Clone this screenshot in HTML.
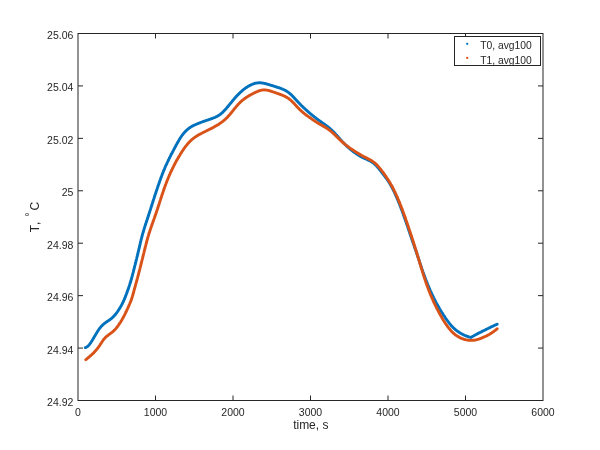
<!DOCTYPE html>
<html><head><meta charset="utf-8"><title>T vs time</title>
<style>html,body{margin:0;padding:0;background:#fff;}svg{display:block;}text{font-family:"Liberation Sans",sans-serif;fill:#262626;}</style>
</head><body>
<svg width="600" height="450" viewBox="0 0 600 450">
<rect x="0" y="0" width="600" height="450" fill="#ffffff"/>
<path d="M85.4,347.6 L85.9,347.4 L86.3,347.2 L86.7,347.0 L87.1,346.8 L87.5,346.5 L87.9,346.2 L88.2,345.9 L88.6,345.5 L88.9,345.2 L89.2,344.8 L89.5,344.4 L89.8,344.0 L90.1,343.6 L90.4,343.2 L90.7,342.8 L90.9,342.4 L91.2,342.0 L91.5,341.5 L91.8,341.1 L92.0,340.7 L92.3,340.3 L92.5,339.8 L92.8,339.4 L93.1,339.0 L93.3,338.6 L93.6,338.1 L93.8,337.7 L94.1,337.3 L94.3,336.8 L94.6,336.4 L94.8,336.0 L95.1,335.5 L95.3,335.1 L95.6,334.7 L95.9,334.2 L96.1,333.8 L96.4,333.4 L96.6,333.0 L96.9,332.5 L97.1,332.1 L97.4,331.7 L97.7,331.3 L97.9,330.8 L98.2,330.4 L98.5,330.0 L98.8,329.6 L99.1,329.2 L99.3,328.8 L99.6,328.4 L99.9,328.0 L100.2,327.6 L100.6,327.2 L100.9,326.8 L101.2,326.5 L101.5,326.1 L101.9,325.8 L102.2,325.4 L102.6,325.1 L102.9,324.7 L103.3,324.4 L103.7,324.1 L104.1,323.8 L104.4,323.5 L104.8,323.2 L105.2,322.9 L105.6,322.6 L106.0,322.3 L106.4,322.0 L106.8,321.7 L107.3,321.4 L107.7,321.2 L108.1,320.9 L108.5,320.6 L108.9,320.3 L109.3,320.1 L109.7,319.8 L110.1,319.5 L110.5,319.2 L110.9,318.9 L111.3,318.6 L111.7,318.2 L112.0,317.9 L112.4,317.6 L112.8,317.3 L113.1,316.9 L113.5,316.6 L113.8,316.2 L114.2,315.9 L114.5,315.5 L114.8,315.1 L115.1,314.8 L115.5,314.4 L115.8,314.0 L116.1,313.6 L116.4,313.2 L116.7,312.8 L117.0,312.4 L117.3,312.0 L117.5,311.6 L117.8,311.2 L118.1,310.8 L118.4,310.3 L118.7,309.9 L118.9,309.5 L119.2,309.1 L119.5,308.7 L119.7,308.2 L120.0,307.8 L120.2,307.4 L120.5,306.9 L120.7,306.5 L121.0,306.1 L121.2,305.6 L121.5,305.2 L121.7,304.8 L121.9,304.3 L122.2,303.9 L122.4,303.4 L122.6,303.0 L122.8,302.5 L123.1,302.1 L123.3,301.6 L123.5,301.2 L123.7,300.7 L123.9,300.3 L124.1,299.8 L124.3,299.4 L124.5,298.9 L124.7,298.4 L124.9,298.0 L125.1,297.5 L125.2,297.1 L125.4,296.6 L125.6,296.1 L125.8,295.7 L126.0,295.2 L126.1,294.7 L126.3,294.3 L126.5,293.8 L126.7,293.3 L126.8,292.9 L127.0,292.4 L127.2,291.9 L127.4,291.4 L127.5,291.0 L127.7,290.5 L127.9,290.0 L128.0,289.6 L128.2,289.1 L128.4,288.6 L128.5,288.2 L128.7,287.7 L128.8,287.2 L129.0,286.7 L129.2,286.3 L129.3,285.8 L129.5,285.3 L129.6,284.8 L129.8,284.4 L129.9,283.9 L130.1,283.4 L130.2,282.9 L130.4,282.4 L130.5,282.0 L130.7,281.5 L130.8,281.0 L130.9,280.5 L131.1,280.1 L131.2,279.6 L131.4,279.1 L131.5,278.6 L131.6,278.1 L131.8,277.7 L131.9,277.2 L132.0,276.7 L132.2,276.2 L132.3,275.7 L132.4,275.2 L132.6,274.8 L132.7,274.3 L132.8,273.8 L132.9,273.3 L133.1,272.8 L133.2,272.3 L133.3,271.9 L133.4,271.4 L133.5,270.9 L133.7,270.4 L133.8,269.9 L133.9,269.4 L134.0,268.9 L134.2,268.5 L134.3,268.0 L134.4,267.5 L134.5,267.0 L134.6,266.5 L134.8,266.0 L134.9,265.5 L135.0,265.1 L135.1,264.6 L135.3,264.1 L135.4,263.6 L135.5,263.1 L135.6,262.6 L135.7,262.2 L135.9,261.7 L136.0,261.2 L136.1,260.7 L136.2,260.2 L136.3,259.7 L136.5,259.2 L136.6,258.8 L136.7,258.3 L136.8,257.8 L136.9,257.3 L137.1,256.8 L137.2,256.3 L137.3,255.8 L137.4,255.4 L137.5,254.9 L137.7,254.4 L137.8,253.9 L137.9,253.4 L138.0,252.9 L138.1,252.4 L138.2,252.0 L138.4,251.5 L138.5,251.0 L138.6,250.5 L138.7,250.0 L138.8,249.5 L138.9,249.0 L139.0,248.6 L139.2,248.1 L139.3,247.6 L139.4,247.1 L139.5,246.6 L139.6,246.1 L139.7,245.6 L139.8,245.1 L140.0,244.7 L140.1,244.2 L140.2,243.7 L140.3,243.2 L140.4,242.7 L140.5,242.2 L140.6,241.7 L140.8,241.3 L140.9,240.8 L141.0,240.3 L141.1,239.8 L141.2,239.3 L141.4,238.8 L141.5,238.3 L141.6,237.9 L141.7,237.4 L141.9,236.9 L142.0,236.4 L142.1,235.9 L142.2,235.4 L142.4,235.0 L142.5,234.5 L142.6,234.0 L142.8,233.5 L142.9,233.0 L143.0,232.6 L143.2,232.1 L143.3,231.6 L143.5,231.1 L143.6,230.6 L143.7,230.2 L143.9,229.7 L144.0,229.2 L144.2,228.7 L144.3,228.2 L144.5,227.8 L144.6,227.3 L144.8,226.8 L144.9,226.3 L145.1,225.9 L145.2,225.4 L145.4,224.9 L145.5,224.4 L145.7,224.0 L145.9,223.5 L146.0,223.0 L146.2,222.5 L146.3,222.1 L146.5,221.6 L146.6,221.1 L146.8,220.6 L147.0,220.2 L147.1,219.7 L147.3,219.2 L147.4,218.7 L147.6,218.3 L147.7,217.8 L147.9,217.3 L148.1,216.8 L148.2,216.4 L148.4,215.9 L148.5,215.4 L148.7,214.9 L148.8,214.5 L149.0,214.0 L149.1,213.5 L149.3,213.0 L149.4,212.6 L149.6,212.1 L149.7,211.6 L149.9,211.1 L150.0,210.7 L150.2,210.2 L150.4,209.7 L150.5,209.2 L150.7,208.7 L150.8,208.3 L151.0,207.8 L151.1,207.3 L151.3,206.8 L151.4,206.4 L151.6,205.9 L151.7,205.4 L151.9,204.9 L152.0,204.5 L152.2,204.0 L152.3,203.5 L152.5,203.0 L152.6,202.6 L152.8,202.1 L152.9,201.6 L153.1,201.1 L153.2,200.7 L153.4,200.2 L153.5,199.7 L153.7,199.2 L153.9,198.7 L154.0,198.3 L154.2,197.8 L154.3,197.3 L154.5,196.8 L154.6,196.4 L154.8,195.9 L154.9,195.4 L155.1,194.9 L155.2,194.5 L155.4,194.0 L155.5,193.5 L155.7,193.0 L155.9,192.6 L156.0,192.1 L156.2,191.6 L156.3,191.1 L156.5,190.7 L156.6,190.2 L156.8,189.7 L157.0,189.2 L157.1,188.8 L157.3,188.3 L157.4,187.8 L157.6,187.3 L157.8,186.9 L157.9,186.4 L158.1,185.9 L158.2,185.5 L158.4,185.0 L158.6,184.5 L158.7,184.0 L158.9,183.6 L159.1,183.1 L159.2,182.6 L159.4,182.1 L159.6,181.7 L159.7,181.2 L159.9,180.7 L160.1,180.3 L160.2,179.8 L160.4,179.3 L160.6,178.9 L160.7,178.4 L160.9,177.9 L161.1,177.4 L161.3,177.0 L161.4,176.5 L161.6,176.0 L161.8,175.6 L162.0,175.1 L162.1,174.6 L162.3,174.2 L162.5,173.7 L162.7,173.2 L162.9,172.8 L163.0,172.3 L163.2,171.9 L163.4,171.4 L163.6,170.9 L163.8,170.5 L164.0,170.0 L164.2,169.5 L164.4,169.1 L164.6,168.6 L164.7,168.2 L164.9,167.7 L165.1,167.2 L165.3,166.8 L165.5,166.3 L165.7,165.9 L165.9,165.4 L166.1,165.0 L166.4,164.5 L166.6,164.1 L166.8,163.6 L167.0,163.1 L167.2,162.7 L167.4,162.2 L167.6,161.8 L167.8,161.3 L168.1,160.9 L168.3,160.4 L168.5,160.0 L168.7,159.5 L168.9,159.1 L169.1,158.6 L169.4,158.2 L169.6,157.7 L169.8,157.3 L170.0,156.9 L170.3,156.4 L170.5,156.0 L170.7,155.5 L170.9,155.1 L171.2,154.6 L171.4,154.2 L171.6,153.7 L171.9,153.3 L172.1,152.9 L172.3,152.4 L172.6,152.0 L172.8,151.5 L173.0,151.1 L173.2,150.6 L173.5,150.2 L173.7,149.8 L173.9,149.3 L174.2,148.9 L174.4,148.4 L174.7,148.0 L174.9,147.5 L175.1,147.1 L175.4,146.7 L175.6,146.2 L175.8,145.8 L176.1,145.3 L176.3,144.9 L176.5,144.5 L176.8,144.0 L177.0,143.6 L177.3,143.2 L177.5,142.7 L177.8,142.3 L178.0,141.8 L178.3,141.4 L178.5,141.0 L178.8,140.5 L179.0,140.1 L179.3,139.7 L179.5,139.3 L179.8,138.8 L180.1,138.4 L180.3,138.0 L180.6,137.6 L180.9,137.2 L181.1,136.8 L181.4,136.3 L181.7,135.9 L182.0,135.5 L182.3,135.1 L182.6,134.7 L182.9,134.4 L183.2,134.0 L183.5,133.6 L183.8,133.2 L184.1,132.8 L184.4,132.5 L184.8,132.1 L185.1,131.8 L185.4,131.4 L185.8,131.1 L186.1,130.7 L186.5,130.4 L186.8,130.1 L187.2,129.7 L187.6,129.4 L187.9,129.1 L188.3,128.8 L188.7,128.5 L189.1,128.2 L189.5,127.9 L189.9,127.6 L190.3,127.4 L190.7,127.1 L191.1,126.8 L191.5,126.6 L192.0,126.3 L192.4,126.1 L192.8,125.9 L193.3,125.6 L193.7,125.4 L194.2,125.2 L194.6,125.0 L195.1,124.8 L195.5,124.6 L196.0,124.4 L196.4,124.2 L196.9,124.0 L197.3,123.8 L197.8,123.6 L198.3,123.4 L198.7,123.2 L199.2,123.1 L199.7,122.9 L200.1,122.7 L200.6,122.5 L201.1,122.3 L201.5,122.2 L202.0,122.0 L202.5,121.8 L202.9,121.6 L203.4,121.5 L203.9,121.3 L204.4,121.1 L204.8,121.0 L205.3,120.8 L205.8,120.7 L206.2,120.5 L206.7,120.3 L207.2,120.2 L207.7,120.0 L208.2,119.9 L208.6,119.7 L209.1,119.5 L209.6,119.4 L210.1,119.2 L210.5,119.1 L211.0,118.9 L211.5,118.7 L211.9,118.6 L212.4,118.4 L212.9,118.2 L213.3,118.0 L213.8,117.8 L214.3,117.7 L214.7,117.5 L215.2,117.3 L215.6,117.1 L216.1,116.8 L216.5,116.6 L217.0,116.4 L217.4,116.2 L217.8,115.9 L218.2,115.7 L218.7,115.4 L219.1,115.2 L219.5,114.9 L219.9,114.6 L220.3,114.3 L220.7,114.0 L221.0,113.7 L221.4,113.4 L221.8,113.1 L222.2,112.8 L222.5,112.4 L222.9,112.1 L223.2,111.7 L223.6,111.4 L223.9,111.0 L224.3,110.7 L224.6,110.3 L224.9,109.9 L225.3,109.6 L225.6,109.2 L225.9,108.8 L226.3,108.5 L226.6,108.1 L226.9,107.7 L227.2,107.3 L227.6,106.9 L227.9,106.6 L228.2,106.2 L228.5,105.8 L228.8,105.4 L229.2,105.0 L229.5,104.6 L229.8,104.2 L230.1,103.8 L230.4,103.5 L230.7,103.1 L231.1,102.7 L231.4,102.3 L231.7,101.9 L232.0,101.5 L232.3,101.1 L232.6,100.7 L232.9,100.4 L233.3,100.0 L233.6,99.6 L233.9,99.2 L234.2,98.8 L234.5,98.4 L234.9,98.1 L235.2,97.7 L235.5,97.3 L235.9,96.9 L236.2,96.6 L236.5,96.2 L236.9,95.8 L237.2,95.5 L237.6,95.1 L237.9,94.8 L238.3,94.4 L238.6,94.1 L239.0,93.7 L239.3,93.4 L239.7,93.0 L240.0,92.7 L240.4,92.3 L240.8,92.0 L241.1,91.7 L241.5,91.3 L241.9,91.0 L242.3,90.7 L242.7,90.4 L243.0,90.0 L243.4,89.7 L243.8,89.4 L244.2,89.1 L244.6,88.8 L245.0,88.5 L245.4,88.2 L245.8,87.9 L246.2,87.6 L246.6,87.4 L247.1,87.1 L247.5,86.8 L247.9,86.5 L248.3,86.3 L248.7,86.0 L249.2,85.8 L249.6,85.5 L250.0,85.3 L250.5,85.1 L250.9,84.9 L251.4,84.7 L251.8,84.5 L252.3,84.3 L252.7,84.1 L253.2,83.9 L253.7,83.8 L254.1,83.6 L254.6,83.5 L255.1,83.4 L255.6,83.2 L256.1,83.1 L256.5,83.1 L257.0,83.0 L257.5,82.9 L258.0,82.9 L258.5,82.8 L259.0,82.8 L259.5,82.8 L260.0,82.8 L260.5,82.8 L261.0,82.9 L261.4,82.9 L261.9,83.0 L262.4,83.0 L262.9,83.1 L263.4,83.2 L263.9,83.3 L264.4,83.4 L264.9,83.5 L265.4,83.6 L265.8,83.7 L266.3,83.9 L266.8,84.0 L267.3,84.1 L267.8,84.3 L268.2,84.4 L268.7,84.5 L269.2,84.7 L269.7,84.8 L270.1,85.0 L270.6,85.1 L271.1,85.3 L271.6,85.4 L272.1,85.6 L272.5,85.7 L273.0,85.9 L273.5,86.0 L274.0,86.2 L274.4,86.3 L274.9,86.5 L275.4,86.6 L275.9,86.8 L276.3,86.9 L276.8,87.1 L277.3,87.3 L277.8,87.4 L278.3,87.6 L278.7,87.7 L279.2,87.9 L279.7,88.0 L280.1,88.2 L280.6,88.4 L281.1,88.5 L281.6,88.7 L282.0,88.9 L282.5,89.1 L282.9,89.3 L283.4,89.5 L283.8,89.7 L284.3,89.9 L284.7,90.1 L285.2,90.3 L285.6,90.6 L286.0,90.8 L286.4,91.1 L286.9,91.3 L287.3,91.6 L287.7,91.9 L288.1,92.2 L288.5,92.5 L288.9,92.8 L289.3,93.1 L289.6,93.4 L290.0,93.7 L290.4,94.0 L290.7,94.4 L291.1,94.7 L291.5,95.0 L291.8,95.4 L292.2,95.7 L292.5,96.1 L292.9,96.5 L293.2,96.8 L293.6,97.2 L293.9,97.5 L294.2,97.9 L294.6,98.3 L294.9,98.6 L295.3,99.0 L295.6,99.4 L295.9,99.7 L296.3,100.1 L296.6,100.5 L297.0,100.8 L297.3,101.2 L297.6,101.6 L298.0,101.9 L298.3,102.3 L298.7,102.7 L299.0,103.0 L299.3,103.4 L299.7,103.8 L300.0,104.1 L300.4,104.5 L300.7,104.8 L301.1,105.2 L301.4,105.5 L301.8,105.9 L302.2,106.2 L302.5,106.6 L302.9,106.9 L303.2,107.3 L303.6,107.6 L304.0,108.0 L304.3,108.3 L304.7,108.7 L305.1,109.0 L305.4,109.3 L305.8,109.7 L306.2,110.0 L306.5,110.3 L306.9,110.7 L307.3,111.0 L307.7,111.3 L308.0,111.7 L308.4,112.0 L308.8,112.3 L309.2,112.6 L309.6,113.0 L309.9,113.3 L310.3,113.6 L310.7,113.9 L311.1,114.2 L311.5,114.6 L311.9,114.9 L312.2,115.2 L312.6,115.5 L313.0,115.8 L313.4,116.1 L313.8,116.4 L314.2,116.8 L314.6,117.1 L315.0,117.4 L315.4,117.7 L315.8,118.0 L316.2,118.3 L316.6,118.6 L317.0,118.9 L317.4,119.2 L317.8,119.5 L318.2,119.8 L318.6,120.1 L319.0,120.4 L319.4,120.7 L319.8,121.0 L320.2,121.2 L320.6,121.5 L321.0,121.8 L321.4,122.1 L321.8,122.4 L322.2,122.7 L322.6,123.0 L323.1,123.3 L323.5,123.5 L323.9,123.8 L324.3,124.1 L324.7,124.4 L325.1,124.7 L325.5,125.0 L325.9,125.3 L326.3,125.6 L326.7,125.9 L327.1,126.2 L327.5,126.5 L327.9,126.8 L328.3,127.1 L328.7,127.4 L329.0,127.7 L329.4,128.0 L329.8,128.4 L330.2,128.7 L330.5,129.0 L330.9,129.4 L331.3,129.7 L331.6,130.0 L332.0,130.4 L332.4,130.7 L332.7,131.1 L333.1,131.4 L333.4,131.8 L333.7,132.1 L334.1,132.5 L334.4,132.9 L334.8,133.2 L335.1,133.6 L335.5,134.0 L335.8,134.3 L336.1,134.7 L336.5,135.1 L336.8,135.4 L337.1,135.8 L337.5,136.2 L337.8,136.6 L338.1,136.9 L338.4,137.3 L338.8,137.7 L339.1,138.1 L339.4,138.4 L339.8,138.8 L340.1,139.2 L340.4,139.6 L340.8,139.9 L341.1,140.3 L341.4,140.7 L341.8,141.0 L342.1,141.4 L342.4,141.8 L342.8,142.1 L343.1,142.5 L343.5,142.9 L343.8,143.2 L344.2,143.6 L344.5,143.9 L344.9,144.3 L345.2,144.6 L345.6,145.0 L345.9,145.3 L346.3,145.7 L346.6,146.0 L347.0,146.3 L347.4,146.7 L347.7,147.0 L348.1,147.3 L348.5,147.7 L348.9,148.0 L349.2,148.3 L349.6,148.7 L350.0,149.0 L350.4,149.3 L350.8,149.6 L351.2,149.9 L351.6,150.2 L351.9,150.5 L352.3,150.9 L352.7,151.2 L353.1,151.5 L353.5,151.8 L353.9,152.1 L354.3,152.4 L354.7,152.6 L355.2,152.9 L355.6,153.2 L356.0,153.5 L356.4,153.8 L356.8,154.1 L357.2,154.3 L357.6,154.6 L358.1,154.9 L358.5,155.1 L358.9,155.4 L359.3,155.7 L359.7,155.9 L360.2,156.2 L360.6,156.4 L361.0,156.6 L361.5,156.9 L361.9,157.1 L362.4,157.3 L362.8,157.6 L363.2,157.8 L363.7,158.0 L364.1,158.2 L364.6,158.4 L365.0,158.6 L365.5,158.8 L366.0,159.0 L366.4,159.2 L366.9,159.4 L367.3,159.6 L367.8,159.9 L368.2,160.1 L368.7,160.3 L369.1,160.5 L369.5,160.7 L370.0,160.9 L370.4,161.2 L370.8,161.4 L371.3,161.7 L371.7,161.9 L372.1,162.2 L372.5,162.5 L372.9,162.8 L373.3,163.0 L373.7,163.3 L374.1,163.6 L374.4,164.0 L374.8,164.3 L375.2,164.6 L375.5,164.9 L375.9,165.3 L376.2,165.6 L376.5,166.0 L376.9,166.4 L377.2,166.7 L377.5,167.1 L377.9,167.5 L378.2,167.9 L378.5,168.3 L378.8,168.6 L379.1,169.0 L379.4,169.4 L379.7,169.8 L380.0,170.2 L380.4,170.6 L380.7,171.0 L381.0,171.4 L381.3,171.8 L381.6,172.2 L381.9,172.6 L382.2,173.0 L382.5,173.4 L382.8,173.8 L383.1,174.2 L383.4,174.6 L383.7,175.0 L384.0,175.3 L384.3,175.7 L384.6,176.1 L384.9,176.5 L385.2,176.9 L385.5,177.3 L385.8,177.7 L386.1,178.1 L386.4,178.5 L386.7,178.9 L387.0,179.3 L387.3,179.8 L387.6,180.2 L387.9,180.6 L388.1,181.0 L388.4,181.4 L388.7,181.8 L388.9,182.2 L389.2,182.6 L389.5,183.1 L389.7,183.5 L390.0,183.9 L390.2,184.3 L390.5,184.8 L390.7,185.2 L391.0,185.6 L391.2,186.1 L391.5,186.5 L391.7,186.9 L391.9,187.4 L392.2,187.8 L392.4,188.2 L392.6,188.7 L392.9,189.1 L393.1,189.6 L393.3,190.0 L393.5,190.5 L393.7,190.9 L394.0,191.4 L394.2,191.8 L394.4,192.3 L394.6,192.7 L394.8,193.2 L395.0,193.6 L395.2,194.1 L395.4,194.5 L395.6,195.0 L395.8,195.5 L396.0,195.9 L396.2,196.4 L396.4,196.8 L396.6,197.3 L396.8,197.7 L397.0,198.2 L397.2,198.7 L397.4,199.1 L397.6,199.6 L397.8,200.0 L398.0,200.5 L398.2,201.0 L398.4,201.4 L398.6,201.9 L398.7,202.4 L398.9,202.8 L399.1,203.3 L399.3,203.8 L399.5,204.2 L399.7,204.7 L399.9,205.1 L400.0,205.6 L400.2,206.1 L400.4,206.5 L400.6,207.0 L400.8,207.5 L400.9,207.9 L401.1,208.4 L401.3,208.9 L401.5,209.3 L401.6,209.8 L401.8,210.3 L402.0,210.8 L402.2,211.2 L402.3,211.7 L402.5,212.2 L402.7,212.6 L402.9,213.1 L403.0,213.6 L403.2,214.0 L403.4,214.5 L403.5,215.0 L403.7,215.4 L403.9,215.9 L404.0,216.4 L404.2,216.9 L404.4,217.3 L404.5,217.8 L404.7,218.3 L404.9,218.7 L405.0,219.2 L405.2,219.7 L405.4,220.2 L405.5,220.6 L405.7,221.1 L405.9,221.6 L406.0,222.0 L406.2,222.5 L406.3,223.0 L406.5,223.5 L406.7,223.9 L406.8,224.4 L407.0,224.9 L407.2,225.4 L407.3,225.8 L407.5,226.3 L407.6,226.8 L407.8,227.3 L408.0,227.7 L408.1,228.2 L408.3,228.7 L408.4,229.2 L408.6,229.6 L408.8,230.1 L408.9,230.6 L409.1,231.0 L409.2,231.5 L409.4,232.0 L409.6,232.5 L409.7,232.9 L409.9,233.4 L410.0,233.9 L410.2,234.4 L410.4,234.8 L410.5,235.3 L410.7,235.8 L410.8,236.3 L411.0,236.7 L411.2,237.2 L411.3,237.7 L411.5,238.1 L411.7,238.6 L411.8,239.1 L412.0,239.6 L412.1,240.0 L412.3,240.5 L412.5,241.0 L412.6,241.5 L412.8,241.9 L413.0,242.4 L413.1,242.9 L413.3,243.3 L413.4,243.8 L413.6,244.3 L413.8,244.8 L413.9,245.2 L414.1,245.7 L414.3,246.2 L414.4,246.7 L414.6,247.1 L414.7,247.6 L414.9,248.1 L415.1,248.5 L415.2,249.0 L415.4,249.5 L415.6,250.0 L415.7,250.4 L415.9,250.9 L416.1,251.4 L416.2,251.8 L416.4,252.3 L416.5,252.8 L416.7,253.3 L416.9,253.7 L417.0,254.2 L417.2,254.7 L417.3,255.2 L417.5,255.6 L417.7,256.1 L417.8,256.6 L418.0,257.1 L418.1,257.5 L418.3,258.0 L418.5,258.5 L418.6,259.0 L418.8,259.4 L418.9,259.9 L419.1,260.4 L419.2,260.8 L419.4,261.3 L419.6,261.8 L419.7,262.3 L419.9,262.7 L420.0,263.2 L420.2,263.7 L420.3,264.2 L420.5,264.6 L420.7,265.1 L420.8,265.6 L421.0,266.1 L421.1,266.5 L421.3,267.0 L421.5,267.5 L421.6,268.0 L421.8,268.4 L421.9,268.9 L422.1,269.4 L422.3,269.8 L422.4,270.3 L422.6,270.8 L422.8,271.3 L422.9,271.7 L423.1,272.2 L423.3,272.7 L423.4,273.1 L423.6,273.6 L423.8,274.1 L423.9,274.6 L424.1,275.0 L424.3,275.5 L424.5,276.0 L424.6,276.4 L424.8,276.9 L425.0,277.4 L425.2,277.8 L425.3,278.3 L425.5,278.8 L425.7,279.2 L425.9,279.7 L426.0,280.2 L426.2,280.6 L426.4,281.1 L426.6,281.6 L426.8,282.0 L427.0,282.5 L427.1,283.0 L427.3,283.4 L427.5,283.9 L427.7,284.4 L427.9,284.8 L428.1,285.3 L428.3,285.7 L428.5,286.2 L428.7,286.7 L428.9,287.1 L429.0,287.6 L429.2,288.0 L429.4,288.5 L429.6,289.0 L429.8,289.4 L430.0,289.9 L430.2,290.3 L430.4,290.8 L430.6,291.2 L430.8,291.7 L431.1,292.2 L431.3,292.6 L431.5,293.1 L431.7,293.5 L431.9,294.0 L432.1,294.4 L432.3,294.9 L432.5,295.3 L432.7,295.8 L433.0,296.2 L433.2,296.7 L433.4,297.1 L433.6,297.6 L433.8,298.0 L434.1,298.5 L434.3,298.9 L434.5,299.4 L434.7,299.8 L435.0,300.3 L435.2,300.7 L435.4,301.1 L435.6,301.6 L435.9,302.0 L436.1,302.5 L436.3,302.9 L436.6,303.4 L436.8,303.8 L437.1,304.2 L437.3,304.7 L437.5,305.1 L437.8,305.5 L438.0,306.0 L438.3,306.4 L438.5,306.8 L438.8,307.3 L439.0,307.7 L439.3,308.1 L439.5,308.6 L439.8,309.0 L440.0,309.4 L440.3,309.9 L440.5,310.3 L440.8,310.7 L441.1,311.2 L441.3,311.6 L441.6,312.0 L441.8,312.4 L442.1,312.9 L442.4,313.3 L442.6,313.7 L442.9,314.1 L443.2,314.5 L443.4,315.0 L443.7,315.4 L444.0,315.8 L444.3,316.2 L444.5,316.6 L444.8,317.1 L445.1,317.5 L445.4,317.9 L445.6,318.3 L445.9,318.7 L446.2,319.1 L446.5,319.5 L446.8,319.9 L447.1,320.3 L447.4,320.7 L447.7,321.1 L448.0,321.5 L448.3,321.9 L448.6,322.3 L448.9,322.7 L449.2,323.1 L449.5,323.5 L449.8,323.9 L450.1,324.3 L450.5,324.7 L450.8,325.0 L451.1,325.4 L451.4,325.8 L451.8,326.1 L452.1,326.5 L452.5,326.9 L452.8,327.2 L453.2,327.6 L453.5,327.9 L453.9,328.2 L454.2,328.6 L454.6,328.9 L455.0,329.2 L455.4,329.6 L455.7,329.9 L456.1,330.2 L456.5,330.5 L456.9,330.8 L457.3,331.1 L457.7,331.4 L458.1,331.7 L458.5,332.0 L459.0,332.2 L459.4,332.5 L459.8,332.8 L460.2,333.0 L460.6,333.3 L461.1,333.5 L461.5,333.8 L461.9,334.0 L462.4,334.2 L462.8,334.5 L463.3,334.7 L463.7,334.9 L464.2,335.1 L464.6,335.3 L465.1,335.5 L465.5,335.7 L466.0,335.9 L466.5,336.1 L466.9,336.2 L467.4,336.4 L467.9,336.6 L468.3,336.7 L468.8,336.9 L469.3,337.1 L469.8,337.2 L470.3,337.3 L470.7,337.5 L470.8,337.5 L470.8,337.5 L471.2,337.2 L471.7,337.0 L472.1,336.7 L472.5,336.5 L473.0,336.2 L473.4,336.0 L473.8,335.8 L474.3,335.5 L474.7,335.3 L475.1,335.0 L475.6,334.8 L476.0,334.6 L476.5,334.3 L476.9,334.1 L477.4,333.9 L477.8,333.6 L478.2,333.4 L478.7,333.2 L479.1,332.9 L479.6,332.7 L480.0,332.5 L480.5,332.3 L480.9,332.0 L481.4,331.8 L481.8,331.6 L482.3,331.4 L482.7,331.1 L483.1,330.9 L483.6,330.7 L484.0,330.5 L484.5,330.3 L484.9,330.0 L485.4,329.8 L485.8,329.6 L486.3,329.4 L486.7,329.1 L487.2,328.9 L487.6,328.7 L488.1,328.5 L488.5,328.3 L489.0,328.0 L489.4,327.8 L489.9,327.6 L490.3,327.4 L490.8,327.2 L491.2,326.9 L491.7,326.7 L492.1,326.5 L492.6,326.3 L493.0,326.1 L493.5,325.9 L493.9,325.7 L494.4,325.5 L494.8,325.2 L495.3,325.0 L495.8,324.8 L496.2,324.6 L496.7,324.4 L497.1,324.2 L497.2,324.2" fill="none" stroke="#0072bd" stroke-width="2.9" stroke-linecap="round" stroke-linejoin="round"/>
<path d="M85.8,359.7 L86.2,359.4 L86.6,359.1 L87.0,358.7 L87.3,358.4 L87.7,358.1 L88.1,357.8 L88.5,357.5 L88.9,357.1 L89.3,356.8 L89.6,356.5 L90.0,356.2 L90.4,355.8 L90.8,355.5 L91.1,355.2 L91.5,354.8 L91.9,354.5 L92.2,354.2 L92.6,353.8 L93.0,353.5 L93.3,353.1 L93.7,352.8 L94.0,352.4 L94.4,352.1 L94.7,351.7 L95.1,351.3 L95.4,351.0 L95.7,350.6 L96.0,350.2 L96.4,349.8 L96.7,349.5 L97.0,349.1 L97.3,348.7 L97.6,348.3 L97.9,347.9 L98.2,347.5 L98.5,347.1 L98.8,346.7 L99.1,346.3 L99.4,345.9 L99.7,345.5 L99.9,345.1 L100.2,344.6 L100.5,344.2 L100.7,343.8 L101.0,343.4 L101.3,343.0 L101.6,342.5 L101.8,342.1 L102.1,341.7 L102.4,341.3 L102.7,340.9 L102.9,340.5 L103.2,340.1 L103.5,339.7 L103.8,339.3 L104.1,338.9 L104.5,338.6 L104.8,338.2 L105.1,337.8 L105.4,337.5 L105.8,337.1 L106.1,336.8 L106.5,336.5 L106.9,336.2 L107.3,335.9 L107.6,335.6 L108.0,335.3 L108.4,335.0 L108.8,334.7 L109.2,334.4 L109.6,334.1 L110.0,333.8 L110.4,333.5 L110.8,333.2 L111.2,332.9 L111.6,332.6 L112.0,332.3 L112.4,332.0 L112.8,331.7 L113.1,331.4 L113.5,331.0 L113.9,330.7 L114.2,330.4 L114.6,330.0 L114.9,329.6 L115.3,329.3 L115.6,328.9 L115.9,328.5 L116.2,328.2 L116.5,327.8 L116.9,327.4 L117.2,327.0 L117.5,326.6 L117.8,326.2 L118.0,325.8 L118.3,325.4 L118.6,325.0 L118.9,324.6 L119.2,324.1 L119.5,323.7 L119.7,323.3 L120.0,322.9 L120.3,322.5 L120.6,322.1 L120.8,321.6 L121.1,321.2 L121.3,320.8 L121.6,320.4 L121.8,319.9 L122.1,319.5 L122.3,319.1 L122.6,318.6 L122.8,318.2 L123.1,317.8 L123.3,317.3 L123.5,316.9 L123.8,316.4 L124.0,316.0 L124.2,315.5 L124.5,315.1 L124.7,314.6 L124.9,314.2 L125.1,313.8 L125.3,313.3 L125.6,312.9 L125.8,312.4 L126.0,312.0 L126.2,311.5 L126.4,311.1 L126.6,310.6 L126.8,310.1 L127.1,309.7 L127.3,309.2 L127.5,308.8 L127.7,308.3 L127.9,307.9 L128.1,307.4 L128.3,307.0 L128.5,306.5 L128.7,306.0 L128.9,305.6 L129.1,305.1 L129.3,304.7 L129.5,304.2 L129.7,303.8 L129.9,303.3 L130.1,302.8 L130.3,302.4 L130.5,301.9 L130.7,301.5 L130.8,301.0 L131.0,300.5 L131.2,300.1 L131.4,299.6 L131.5,299.1 L131.7,298.6 L131.8,298.2 L132.0,297.7 L132.1,297.2 L132.3,296.7 L132.4,296.3 L132.6,295.8 L132.7,295.3 L132.9,294.8 L133.0,294.3 L133.1,293.9 L133.3,293.4 L133.4,292.9 L133.5,292.4 L133.7,291.9 L133.8,291.5 L133.9,291.0 L134.0,290.5 L134.2,290.0 L134.3,289.5 L134.4,289.0 L134.6,288.6 L134.7,288.1 L134.8,287.6 L135.0,287.1 L135.1,286.6 L135.2,286.1 L135.4,285.7 L135.5,285.2 L135.6,284.7 L135.8,284.2 L135.9,283.7 L136.0,283.3 L136.2,282.8 L136.3,282.3 L136.4,281.8 L136.6,281.3 L136.7,280.8 L136.8,280.4 L137.0,279.9 L137.1,279.4 L137.2,278.9 L137.4,278.4 L137.5,278.0 L137.6,277.5 L137.7,277.0 L137.9,276.5 L138.0,276.0 L138.1,275.5 L138.3,275.1 L138.4,274.6 L138.5,274.1 L138.6,273.6 L138.8,273.1 L138.9,272.6 L139.0,272.2 L139.1,271.7 L139.3,271.2 L139.4,270.7 L139.5,270.2 L139.6,269.7 L139.8,269.2 L139.9,268.8 L140.0,268.3 L140.1,267.8 L140.3,267.3 L140.4,266.8 L140.5,266.3 L140.6,265.9 L140.7,265.4 L140.9,264.9 L141.0,264.4 L141.1,263.9 L141.2,263.4 L141.3,262.9 L141.5,262.5 L141.6,262.0 L141.7,261.5 L141.8,261.0 L141.9,260.5 L142.1,260.0 L142.2,259.5 L142.3,259.1 L142.4,258.6 L142.6,258.1 L142.7,257.6 L142.8,257.1 L142.9,256.6 L143.0,256.1 L143.2,255.7 L143.3,255.2 L143.4,254.7 L143.5,254.2 L143.6,253.7 L143.8,253.2 L143.9,252.8 L144.0,252.3 L144.1,251.8 L144.2,251.3 L144.4,250.8 L144.5,250.3 L144.6,249.8 L144.7,249.4 L144.9,248.9 L145.0,248.4 L145.1,247.9 L145.2,247.4 L145.3,246.9 L145.5,246.4 L145.6,246.0 L145.7,245.5 L145.8,245.0 L146.0,244.5 L146.1,244.0 L146.2,243.5 L146.3,243.1 L146.5,242.6 L146.6,242.1 L146.7,241.6 L146.8,241.1 L147.0,240.6 L147.1,240.2 L147.2,239.7 L147.4,239.2 L147.5,238.7 L147.6,238.2 L147.8,237.8 L147.9,237.3 L148.0,236.8 L148.2,236.3 L148.3,235.8 L148.5,235.4 L148.6,234.9 L148.8,234.4 L148.9,233.9 L149.1,233.4 L149.2,233.0 L149.4,232.5 L149.5,232.0 L149.7,231.5 L149.8,231.1 L150.0,230.6 L150.1,230.1 L150.3,229.6 L150.4,229.2 L150.6,228.7 L150.8,228.2 L150.9,227.7 L151.1,227.3 L151.2,226.8 L151.4,226.3 L151.6,225.9 L151.7,225.4 L151.9,224.9 L152.1,224.4 L152.2,224.0 L152.4,223.5 L152.6,223.0 L152.7,222.6 L152.9,222.1 L153.1,221.6 L153.2,221.1 L153.4,220.7 L153.6,220.2 L153.7,219.7 L153.9,219.3 L154.1,218.8 L154.2,218.3 L154.4,217.8 L154.6,217.4 L154.7,216.9 L154.9,216.4 L155.1,216.0 L155.2,215.5 L155.4,215.0 L155.6,214.5 L155.7,214.1 L155.9,213.6 L156.1,213.1 L156.2,212.7 L156.4,212.2 L156.5,211.7 L156.7,211.2 L156.9,210.8 L157.0,210.3 L157.2,209.8 L157.3,209.3 L157.5,208.9 L157.7,208.4 L157.8,207.9 L158.0,207.4 L158.1,207.0 L158.3,206.5 L158.4,206.0 L158.6,205.5 L158.7,205.1 L158.9,204.6 L159.1,204.1 L159.2,203.6 L159.4,203.2 L159.5,202.7 L159.7,202.2 L159.8,201.7 L160.0,201.3 L160.1,200.8 L160.3,200.3 L160.4,199.8 L160.6,199.4 L160.7,198.9 L160.9,198.4 L161.1,197.9 L161.2,197.5 L161.4,197.0 L161.5,196.5 L161.7,196.0 L161.8,195.5 L162.0,195.1 L162.1,194.6 L162.3,194.1 L162.5,193.7 L162.6,193.2 L162.8,192.7 L162.9,192.2 L163.1,191.8 L163.3,191.3 L163.4,190.8 L163.6,190.3 L163.7,189.9 L163.9,189.4 L164.1,188.9 L164.2,188.4 L164.4,188.0 L164.6,187.5 L164.7,187.0 L164.9,186.6 L165.1,186.1 L165.2,185.6 L165.4,185.2 L165.6,184.7 L165.8,184.2 L165.9,183.8 L166.1,183.3 L166.3,182.8 L166.5,182.4 L166.7,181.9 L166.8,181.4 L167.0,181.0 L167.2,180.5 L167.4,180.0 L167.6,179.6 L167.8,179.1 L168.0,178.6 L168.1,178.2 L168.3,177.7 L168.5,177.3 L168.7,176.8 L168.9,176.3 L169.1,175.9 L169.3,175.4 L169.5,175.0 L169.7,174.5 L169.9,174.1 L170.1,173.6 L170.3,173.1 L170.5,172.7 L170.7,172.2 L170.9,171.8 L171.2,171.3 L171.4,170.9 L171.6,170.4 L171.8,170.0 L172.0,169.5 L172.2,169.1 L172.4,168.6 L172.7,168.2 L172.9,167.7 L173.1,167.3 L173.3,166.8 L173.6,166.4 L173.8,165.9 L174.0,165.5 L174.2,165.0 L174.5,164.6 L174.7,164.2 L174.9,163.7 L175.2,163.3 L175.4,162.8 L175.6,162.4 L175.9,162.0 L176.1,161.5 L176.3,161.1 L176.6,160.6 L176.8,160.2 L177.1,159.8 L177.3,159.3 L177.6,158.9 L177.8,158.5 L178.1,158.0 L178.3,157.6 L178.6,157.2 L178.8,156.7 L179.1,156.3 L179.3,155.9 L179.6,155.5 L179.9,155.0 L180.1,154.6 L180.4,154.2 L180.6,153.8 L180.9,153.3 L181.2,152.9 L181.4,152.5 L181.7,152.1 L182.0,151.6 L182.3,151.2 L182.5,150.8 L182.8,150.4 L183.1,150.0 L183.4,149.6 L183.6,149.2 L183.9,148.7 L184.2,148.3 L184.5,147.9 L184.8,147.5 L185.1,147.1 L185.4,146.7 L185.7,146.3 L186.0,145.9 L186.3,145.5 L186.6,145.2 L186.9,144.8 L187.3,144.4 L187.6,144.0 L187.9,143.6 L188.2,143.3 L188.6,142.9 L188.9,142.5 L189.2,142.2 L189.6,141.8 L189.9,141.4 L190.3,141.1 L190.6,140.8 L191.0,140.4 L191.4,140.1 L191.7,139.7 L192.1,139.4 L192.5,139.1 L192.9,138.8 L193.3,138.5 L193.6,138.2 L194.0,137.9 L194.4,137.6 L194.8,137.3 L195.3,137.0 L195.7,136.8 L196.1,136.5 L196.5,136.2 L196.9,135.9 L197.3,135.7 L197.8,135.4 L198.2,135.2 L198.6,134.9 L199.1,134.7 L199.5,134.4 L199.9,134.2 L200.4,133.9 L200.8,133.7 L201.2,133.5 L201.7,133.2 L202.1,133.0 L202.6,132.8 L203.0,132.6 L203.5,132.3 L203.9,132.1 L204.4,131.9 L204.8,131.7 L205.2,131.5 L205.7,131.2 L206.1,131.0 L206.6,130.8 L207.0,130.6 L207.5,130.3 L207.9,130.1 L208.4,129.9 L208.8,129.7 L209.3,129.5 L209.7,129.2 L210.2,129.0 L210.6,128.8 L211.1,128.6 L211.5,128.3 L212.0,128.1 L212.4,127.9 L212.8,127.6 L213.3,127.4 L213.7,127.2 L214.2,126.9 L214.6,126.7 L215.0,126.4 L215.5,126.2 L215.9,125.9 L216.3,125.7 L216.8,125.4 L217.2,125.2 L217.6,124.9 L218.0,124.7 L218.5,124.4 L218.9,124.1 L219.3,123.9 L219.7,123.6 L220.1,123.3 L220.5,123.0 L220.9,122.7 L221.3,122.5 L221.7,122.2 L222.1,121.9 L222.5,121.6 L222.9,121.2 L223.3,120.9 L223.7,120.6 L224.1,120.3 L224.5,120.0 L224.8,119.6 L225.2,119.3 L225.6,119.0 L225.9,118.6 L226.3,118.3 L226.7,117.9 L227.0,117.6 L227.4,117.2 L227.7,116.9 L228.0,116.5 L228.4,116.2 L228.7,115.8 L229.0,115.4 L229.4,115.0 L229.7,114.7 L230.0,114.3 L230.3,113.9 L230.7,113.5 L231.0,113.1 L231.3,112.7 L231.6,112.4 L231.9,112.0 L232.2,111.6 L232.5,111.2 L232.9,110.8 L233.2,110.4 L233.5,110.0 L233.8,109.6 L234.1,109.2 L234.4,108.8 L234.7,108.5 L235.0,108.1 L235.4,107.7 L235.7,107.3 L236.0,106.9 L236.3,106.5 L236.6,106.1 L237.0,105.8 L237.3,105.4 L237.6,105.0 L238.0,104.7 L238.3,104.3 L238.6,103.9 L239.0,103.6 L239.3,103.2 L239.7,102.9 L240.0,102.5 L240.4,102.2 L240.7,101.8 L241.1,101.5 L241.5,101.2 L241.9,100.8 L242.2,100.5 L242.6,100.2 L243.0,99.9 L243.4,99.6 L243.8,99.2 L244.2,98.9 L244.6,98.6 L245.0,98.4 L245.4,98.1 L245.8,97.8 L246.2,97.5 L246.6,97.2 L247.0,97.0 L247.4,96.7 L247.9,96.4 L248.3,96.2 L248.7,95.9 L249.2,95.7 L249.6,95.4 L250.0,95.2 L250.5,94.9 L250.9,94.7 L251.3,94.4 L251.8,94.2 L252.2,94.0 L252.7,93.7 L253.1,93.5 L253.5,93.3 L254.0,93.0 L254.4,92.8 L254.9,92.6 L255.3,92.4 L255.8,92.2 L256.2,92.0 L256.7,91.8 L257.2,91.6 L257.6,91.4 L258.1,91.2 L258.6,91.1 L259.0,90.9 L259.5,90.7 L260.0,90.6 L260.4,90.5 L260.9,90.3 L261.4,90.2 L261.9,90.1 L262.3,90.1 L262.8,90.0 L263.3,89.9 L263.8,89.9 L264.3,89.9 L264.8,89.9 L265.2,90.0 L265.7,90.0 L266.2,90.1 L266.7,90.1 L267.2,90.2 L267.7,90.3 L268.1,90.4 L268.6,90.5 L269.1,90.6 L269.6,90.8 L270.1,90.9 L270.5,91.1 L271.0,91.2 L271.5,91.4 L271.9,91.5 L272.4,91.7 L272.9,91.8 L273.4,92.0 L273.8,92.2 L274.3,92.3 L274.8,92.5 L275.2,92.7 L275.7,92.8 L276.2,93.0 L276.7,93.1 L277.1,93.3 L277.6,93.5 L278.1,93.6 L278.6,93.8 L279.0,94.0 L279.5,94.1 L280.0,94.3 L280.4,94.5 L280.9,94.6 L281.4,94.8 L281.8,95.0 L282.3,95.2 L282.8,95.4 L283.2,95.6 L283.7,95.8 L284.1,96.0 L284.6,96.2 L285.0,96.4 L285.4,96.6 L285.9,96.8 L286.3,97.1 L286.7,97.3 L287.1,97.6 L287.6,97.8 L288.0,98.1 L288.4,98.4 L288.8,98.7 L289.2,98.9 L289.5,99.2 L289.9,99.6 L290.3,99.9 L290.7,100.2 L291.0,100.5 L291.4,100.8 L291.8,101.2 L292.1,101.5 L292.5,101.9 L292.8,102.2 L293.2,102.6 L293.5,102.9 L293.9,103.3 L294.2,103.7 L294.6,104.0 L294.9,104.4 L295.2,104.8 L295.6,105.1 L295.9,105.5 L296.2,105.9 L296.6,106.3 L296.9,106.6 L297.3,107.0 L297.6,107.4 L297.9,107.7 L298.3,108.1 L298.6,108.4 L299.0,108.8 L299.3,109.1 L299.7,109.5 L300.0,109.8 L300.4,110.2 L300.8,110.5 L301.1,110.9 L301.5,111.2 L301.9,111.5 L302.2,111.9 L302.6,112.2 L303.0,112.5 L303.4,112.8 L303.8,113.1 L304.1,113.4 L304.5,113.8 L304.9,114.1 L305.3,114.4 L305.7,114.7 L306.1,115.0 L306.5,115.3 L306.9,115.6 L307.3,115.8 L307.7,116.1 L308.1,116.4 L308.5,116.7 L308.9,117.0 L309.3,117.3 L309.8,117.6 L310.2,117.9 L310.6,118.2 L311.0,118.4 L311.4,118.7 L311.8,119.0 L312.2,119.3 L312.6,119.6 L313.0,119.9 L313.4,120.1 L313.9,120.4 L314.3,120.7 L314.7,121.0 L315.1,121.3 L315.5,121.5 L315.9,121.8 L316.4,122.1 L316.8,122.3 L317.2,122.6 L317.6,122.9 L318.0,123.1 L318.5,123.4 L318.9,123.6 L319.3,123.9 L319.8,124.1 L320.2,124.4 L320.6,124.6 L321.1,124.9 L321.5,125.1 L321.9,125.4 L322.4,125.6 L322.8,125.9 L323.2,126.1 L323.7,126.4 L324.1,126.6 L324.5,126.9 L324.9,127.1 L325.4,127.4 L325.8,127.6 L326.2,127.9 L326.6,128.2 L327.0,128.4 L327.5,128.7 L327.9,129.0 L328.3,129.3 L328.7,129.6 L329.1,129.9 L329.5,130.2 L329.9,130.5 L330.3,130.8 L330.6,131.1 L331.0,131.4 L331.4,131.7 L331.8,132.0 L332.1,132.4 L332.5,132.7 L332.9,133.0 L333.3,133.4 L333.6,133.7 L334.0,134.0 L334.3,134.4 L334.7,134.7 L335.1,135.1 L335.4,135.4 L335.8,135.8 L336.1,136.1 L336.5,136.5 L336.8,136.8 L337.2,137.2 L337.6,137.5 L337.9,137.9 L338.3,138.2 L338.6,138.6 L339.0,138.9 L339.4,139.3 L339.7,139.6 L340.1,140.0 L340.4,140.3 L340.8,140.6 L341.2,141.0 L341.5,141.3 L341.9,141.7 L342.3,142.0 L342.7,142.3 L343.0,142.6 L343.4,143.0 L343.8,143.3 L344.2,143.6 L344.5,143.9 L344.9,144.3 L345.3,144.6 L345.7,144.9 L346.1,145.2 L346.5,145.5 L346.9,145.8 L347.3,146.1 L347.7,146.4 L348.1,146.7 L348.5,147.0 L348.9,147.3 L349.3,147.6 L349.7,147.9 L350.1,148.2 L350.5,148.5 L350.9,148.7 L351.3,149.0 L351.7,149.3 L352.2,149.6 L352.6,149.9 L353.0,150.1 L353.4,150.4 L353.8,150.7 L354.2,151.0 L354.7,151.2 L355.1,151.5 L355.5,151.8 L355.9,152.0 L356.3,152.3 L356.8,152.6 L357.2,152.8 L357.6,153.1 L358.0,153.3 L358.5,153.6 L358.9,153.9 L359.3,154.1 L359.8,154.4 L360.2,154.6 L360.6,154.9 L361.1,155.1 L361.5,155.4 L361.9,155.6 L362.4,155.8 L362.8,156.1 L363.2,156.3 L363.7,156.5 L364.1,156.8 L364.6,157.0 L365.0,157.2 L365.5,157.4 L365.9,157.7 L366.4,157.9 L366.8,158.1 L367.3,158.3 L367.7,158.6 L368.2,158.8 L368.6,159.0 L369.0,159.2 L369.5,159.5 L369.9,159.7 L370.3,160.0 L370.8,160.2 L371.2,160.5 L371.6,160.7 L372.0,161.0 L372.4,161.3 L372.8,161.5 L373.2,161.8 L373.6,162.1 L374.0,162.4 L374.4,162.7 L374.8,163.0 L375.2,163.3 L375.5,163.7 L375.9,164.0 L376.3,164.3 L376.6,164.7 L377.0,165.0 L377.3,165.4 L377.6,165.8 L378.0,166.1 L378.3,166.5 L378.6,166.9 L378.9,167.3 L379.3,167.6 L379.6,168.0 L379.9,168.4 L380.2,168.8 L380.5,169.2 L380.8,169.6 L381.2,170.0 L381.5,170.4 L381.8,170.8 L382.1,171.2 L382.4,171.5 L382.7,171.9 L383.0,172.3 L383.3,172.7 L383.6,173.2 L383.9,173.6 L384.2,174.0 L384.4,174.4 L384.7,174.8 L385.0,175.2 L385.3,175.6 L385.6,176.0 L385.9,176.4 L386.2,176.8 L386.4,177.2 L386.7,177.7 L387.0,178.1 L387.3,178.5 L387.5,178.9 L387.8,179.3 L388.1,179.7 L388.4,180.2 L388.6,180.6 L388.9,181.0 L389.2,181.4 L389.4,181.9 L389.7,182.3 L389.9,182.7 L390.2,183.1 L390.4,183.6 L390.7,184.0 L390.9,184.4 L391.2,184.9 L391.4,185.3 L391.7,185.7 L391.9,186.2 L392.1,186.6 L392.4,187.1 L392.6,187.5 L392.8,187.9 L393.1,188.4 L393.3,188.8 L393.5,189.3 L393.8,189.7 L394.0,190.2 L394.2,190.6 L394.4,191.1 L394.6,191.5 L394.9,192.0 L395.1,192.4 L395.3,192.9 L395.5,193.3 L395.7,193.8 L395.9,194.2 L396.1,194.7 L396.3,195.1 L396.5,195.6 L396.7,196.0 L397.0,196.5 L397.2,196.9 L397.4,197.4 L397.6,197.9 L397.7,198.3 L397.9,198.8 L398.1,199.2 L398.3,199.7 L398.5,200.2 L398.7,200.6 L398.9,201.1 L399.1,201.5 L399.3,202.0 L399.5,202.5 L399.7,202.9 L399.9,203.4 L400.0,203.9 L400.2,204.3 L400.4,204.8 L400.6,205.3 L400.8,205.7 L401.0,206.2 L401.1,206.6 L401.3,207.1 L401.5,207.6 L401.7,208.0 L401.9,208.5 L402.0,209.0 L402.2,209.5 L402.4,209.9 L402.6,210.4 L402.7,210.9 L402.9,211.3 L403.1,211.8 L403.3,212.3 L403.4,212.7 L403.6,213.2 L403.8,213.7 L403.9,214.1 L404.1,214.6 L404.3,215.1 L404.4,215.6 L404.6,216.0 L404.8,216.5 L405.0,217.0 L405.1,217.4 L405.3,217.9 L405.5,218.4 L405.6,218.8 L405.8,219.3 L405.9,219.8 L406.1,220.3 L406.3,220.7 L406.4,221.2 L406.6,221.7 L406.8,222.2 L406.9,222.6 L407.1,223.1 L407.2,223.6 L407.4,224.0 L407.6,224.5 L407.7,225.0 L407.9,225.5 L408.0,225.9 L408.2,226.4 L408.4,226.9 L408.5,227.4 L408.7,227.8 L408.8,228.3 L409.0,228.8 L409.2,229.3 L409.3,229.7 L409.5,230.2 L409.6,230.7 L409.8,231.2 L409.9,231.6 L410.1,232.1 L410.3,232.6 L410.4,233.1 L410.6,233.5 L410.7,234.0 L410.9,234.5 L411.0,235.0 L411.2,235.4 L411.4,235.9 L411.5,236.4 L411.7,236.9 L411.8,237.3 L412.0,237.8 L412.1,238.3 L412.3,238.8 L412.4,239.2 L412.6,239.7 L412.8,240.2 L412.9,240.7 L413.1,241.1 L413.2,241.6 L413.4,242.1 L413.5,242.6 L413.7,243.0 L413.8,243.5 L414.0,244.0 L414.1,244.5 L414.3,244.9 L414.4,245.4 L414.6,245.9 L414.7,246.4 L414.9,246.9 L415.0,247.3 L415.2,247.8 L415.3,248.3 L415.5,248.8 L415.6,249.2 L415.8,249.7 L415.9,250.2 L416.1,250.7 L416.2,251.1 L416.4,251.6 L416.5,252.1 L416.7,252.6 L416.8,253.1 L417.0,253.5 L417.1,254.0 L417.3,254.5 L417.4,255.0 L417.5,255.4 L417.7,255.9 L417.8,256.4 L418.0,256.9 L418.1,257.4 L418.3,257.8 L418.4,258.3 L418.5,258.8 L418.7,259.3 L418.8,259.8 L419.0,260.2 L419.1,260.7 L419.3,261.2 L419.4,261.7 L419.5,262.2 L419.7,262.6 L419.8,263.1 L420.0,263.6 L420.1,264.1 L420.3,264.6 L420.4,265.0 L420.5,265.5 L420.7,266.0 L420.8,266.5 L421.0,266.9 L421.1,267.4 L421.3,267.9 L421.4,268.4 L421.6,268.9 L421.7,269.3 L421.9,269.8 L422.0,270.3 L422.2,270.8 L422.3,271.2 L422.5,271.7 L422.6,272.2 L422.8,272.7 L422.9,273.2 L423.1,273.6 L423.2,274.1 L423.4,274.6 L423.5,275.1 L423.7,275.5 L423.8,276.0 L424.0,276.5 L424.1,277.0 L424.3,277.4 L424.4,277.9 L424.6,278.4 L424.8,278.9 L424.9,279.3 L425.1,279.8 L425.2,280.3 L425.4,280.8 L425.6,281.2 L425.7,281.7 L425.9,282.2 L426.0,282.6 L426.2,283.1 L426.4,283.6 L426.5,284.1 L426.7,284.5 L426.9,285.0 L427.0,285.5 L427.2,285.9 L427.4,286.4 L427.6,286.9 L427.7,287.3 L427.9,287.8 L428.1,288.3 L428.3,288.8 L428.4,289.2 L428.6,289.7 L428.8,290.2 L429.0,290.6 L429.1,291.1 L429.3,291.6 L429.5,292.0 L429.7,292.5 L429.9,292.9 L430.1,293.4 L430.2,293.9 L430.4,294.3 L430.6,294.8 L430.8,295.3 L431.0,295.7 L431.2,296.2 L431.4,296.6 L431.6,297.1 L431.8,297.6 L432.0,298.0 L432.2,298.5 L432.4,298.9 L432.6,299.4 L432.8,299.8 L433.0,300.3 L433.2,300.8 L433.4,301.2 L433.6,301.7 L433.8,302.1 L434.0,302.6 L434.2,303.0 L434.5,303.5 L434.7,303.9 L434.9,304.4 L435.1,304.8 L435.3,305.3 L435.5,305.7 L435.8,306.2 L436.0,306.6 L436.2,307.1 L436.4,307.5 L436.6,308.0 L436.9,308.4 L437.1,308.9 L437.3,309.3 L437.6,309.7 L437.8,310.2 L438.0,310.6 L438.3,311.1 L438.5,311.5 L438.7,312.0 L439.0,312.4 L439.2,312.8 L439.4,313.3 L439.7,313.7 L439.9,314.2 L440.1,314.6 L440.4,315.0 L440.6,315.5 L440.9,315.9 L441.1,316.3 L441.4,316.8 L441.6,317.2 L441.9,317.6 L442.1,318.1 L442.4,318.5 L442.6,318.9 L442.9,319.4 L443.1,319.8 L443.4,320.2 L443.7,320.6 L443.9,321.1 L444.2,321.5 L444.4,321.9 L444.7,322.3 L445.0,322.8 L445.3,323.2 L445.5,323.6 L445.8,324.0 L446.1,324.4 L446.4,324.8 L446.7,325.2 L446.9,325.6 L447.2,326.0 L447.5,326.4 L447.8,326.8 L448.1,327.2 L448.4,327.6 L448.7,328.0 L449.0,328.4 L449.4,328.8 L449.7,329.2 L450.0,329.6 L450.3,330.0 L450.7,330.3 L451.0,330.7 L451.3,331.1 L451.7,331.4 L452.0,331.8 L452.4,332.1 L452.7,332.5 L453.1,332.8 L453.4,333.2 L453.8,333.5 L454.2,333.8 L454.5,334.1 L454.9,334.4 L455.3,334.8 L455.7,335.1 L456.1,335.3 L456.5,335.6 L456.9,335.9 L457.3,336.2 L457.8,336.4 L458.2,336.7 L458.6,336.9 L459.0,337.2 L459.5,337.4 L459.9,337.6 L460.4,337.8 L460.8,338.1 L461.3,338.3 L461.7,338.4 L462.2,338.6 L462.7,338.8 L463.1,339.0 L463.6,339.1 L464.1,339.3 L464.6,339.4 L465.0,339.6 L465.5,339.7 L466.0,339.8 L466.5,339.9 L467.0,340.0 L467.4,340.1 L467.9,340.2 L468.4,340.3 L468.9,340.3 L469.4,340.4 L469.9,340.4 L470.4,340.4 L470.9,340.4 L471.4,340.4 L471.9,340.4 L472.4,340.4 L472.8,340.3 L473.3,340.3 L473.8,340.2 L474.3,340.2 L474.8,340.1 L475.3,340.0 L475.8,339.9 L476.3,339.8 L476.7,339.7 L477.2,339.5 L477.7,339.4 L478.2,339.3 L478.7,339.1 L479.1,339.0 L479.6,338.8 L480.1,338.6 L480.5,338.5 L481.0,338.3 L481.5,338.1 L481.9,337.9 L482.4,337.7 L482.9,337.5 L483.3,337.3 L483.8,337.1 L484.2,336.9 L484.7,336.7 L485.1,336.5 L485.6,336.3 L486.0,336.1 L486.5,335.9 L486.9,335.7 L487.4,335.4 L487.8,335.2 L488.3,335.0 L488.7,334.7 L489.1,334.5 L489.6,334.2 L490.0,334.0 L490.4,333.7 L490.9,333.5 L491.3,333.2 L491.7,332.9 L492.1,332.6 L492.5,332.4 L492.9,332.1 L493.3,331.8 L493.7,331.5 L494.1,331.2 L494.5,330.9 L494.9,330.6 L495.3,330.3 L495.7,330.0 L496.1,329.6 L496.5,329.3 L496.9,329.0 L497.2,328.7" fill="none" stroke="#d95319" stroke-width="2.9" stroke-linecap="round" stroke-linejoin="round"/>
<g stroke="#262626" stroke-width="1" fill="none">
<rect x="78.0" y="33.5" width="465.0" height="367.0"/>
<path d="M155.50,400.5v-5.0M155.50,33.5v5.0M233.00,400.5v-5.0M233.00,33.5v5.0M310.50,400.5v-5.0M310.50,33.5v5.0M388.00,400.5v-5.0M388.00,33.5v5.0M465.50,400.5v-5.0M465.50,33.5v5.0M78.0,348.07h5.0M543.0,348.07h-5.0M78.0,295.64h5.0M543.0,295.64h-5.0M78.0,243.21h5.0M543.0,243.21h-5.0M78.0,190.79h5.0M543.0,190.79h-5.0M78.0,138.36h5.0M543.0,138.36h-5.0M78.0,85.93h5.0M543.0,85.93h-5.0"/>
</g>
<g font-size="10.5px">
<text x="78.00" y="416.3" text-anchor="middle">0</text>
<text x="155.50" y="416.3" text-anchor="middle">1000</text>
<text x="233.00" y="416.3" text-anchor="middle">2000</text>
<text x="310.50" y="416.3" text-anchor="middle">3000</text>
<text x="388.00" y="416.3" text-anchor="middle">4000</text>
<text x="465.50" y="416.3" text-anchor="middle">5000</text>
<text x="543.00" y="416.3" text-anchor="middle">6000</text>
<text x="73.4" y="406.00" text-anchor="end">24.92</text>
<text x="73.4" y="353.57" text-anchor="end">24.94</text>
<text x="73.4" y="301.14" text-anchor="end">24.96</text>
<text x="73.4" y="248.71" text-anchor="end">24.98</text>
<text x="73.4" y="196.29" text-anchor="end">25</text>
<text x="73.4" y="143.86" text-anchor="end">25.02</text>
<text x="73.4" y="91.43" text-anchor="end">25.04</text>
<text x="73.4" y="39.00" text-anchor="end">25.06</text>
</g>
<text x="310.8" y="428.7" font-size="12px" text-anchor="middle">time, s</text>
<text transform="translate(38.8,0) rotate(-90)" font-size="12px"><tspan x="-232.3" y="0">T</tspan><tspan dx="1.2">,</tspan><tspan x="-216.7" y="-5.5" font-size="11px">°</tspan><tspan x="-210.6" y="0">C</tspan></text>
<rect x="454.5" y="36.5" width="86" height="29" fill="#ffffff" stroke="#262626" stroke-width="1"/>
<circle cx="467.2" cy="43.8" r="1.15" fill="#0072bd"/>
<circle cx="467.2" cy="57.9" r="1.15" fill="#d95319"/>
<g font-size="10.3px"><text x="480.2" y="49.3">T0, avg100</text><text x="480.2" y="63.7">T1, avg100</text></g>
</svg>
</body></html>
